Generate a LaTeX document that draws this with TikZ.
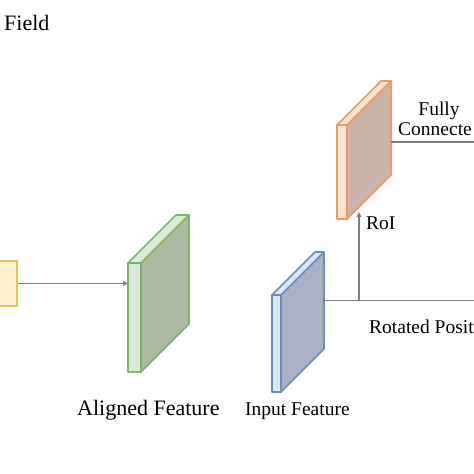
\documentclass[tikz,border=0pt]{standalone}
\usepackage{fontspec}
\setmainfont{Liberation Serif}
\usetikzlibrary{arrows.meta}

\definecolor{linegray}{HTML}{7F7F7F}
\definecolor{grnedge}{HTML}{82B366}
\definecolor{grnlight}{HTML}{D9EBD6}
\definecolor{grndark}{HTML}{ADBBA5}
\definecolor{bluedge}{HTML}{6C8EBF}
\definecolor{blulight}{HTML}{DAE6F8}
\definecolor{bludark}{HTML}{A9B2C3}
\definecolor{orgedge}{HTML}{EB9A62}
\definecolor{orglight}{HTML}{FCE3D3}
\definecolor{orgdark}{HTML}{C9B4A9}
\definecolor{ylwedge}{HTML}{E6C25A}
\definecolor{ylwlight}{HTML}{FFF2CC}

\tikzset{
  link/.style={draw=linegray, line width=1.6pt},
  tip/.style={-{Triangle[length=5pt,width=4.5pt]}},
  lbl/.style={inner sep=0pt, anchor=base west},
  bigtxt/.style={font=\fontsize{22}{26}\selectfont},
  smalltxt/.style={font=\fontsize{19.5}{23}\selectfont},
  ybox/.style={draw=ylwedge, fill=ylwlight, line width=1.6pt,
    minimum width=24pt, minimum height=45pt, inner sep=0pt},
}

% feature map slab: name, x, y, strip width, height, depth, edge, light, dark
\newcommand{\featmap}[9]{%
  \draw[#7, fill=#9, line width=1.6pt, line join=round]
    (#2+#4,#3) -- ++(#6,-#6) -- ++(0,#5) -- ++(-#6,#6) -- cycle;
  \draw[#7, fill=#8, line width=1.6pt, line join=round]
    (#2,#3) -- ++(#6,-#6) -- ++(#4,0) -- ++(-#6,#6) -- cycle;
  \draw[#7, fill=#8, line width=1.6pt, line join=round]
    (#2,#3) rectangle ++(#4,#5);
  \coordinate (#1-nw) at (#2,#3);
  \coordinate (#1-sw) at (#2,#3+#5);
  \coordinate (#1-ne) at (#2+#4+#6,#3-#6);
  \coordinate (#1-e) at (#2+#4+#6,#3-#6+#5/2);
}

\begin{document}
\begin{tikzpicture}[x=1pt,y=-1pt]
  \useasboundingbox (0,0) rectangle (474,474);
  % feature maps
  \featmap{green}{128}{263}{13}{109}{48}{grnedge}{grnlight}{grndark}
  \featmap{blue}{272}{295}{9}{97}{43}{bluedge}{blulight}{bludark}
  \featmap{orange}{337}{125}{10}{94}{44}{orgedge}{orglight}{orgdark}
  \node[ybox] (agg) at (5,283.5) {};
  % connectors
  \draw[link,tip] (agg.east) -- (agg.east -| green-nw);
  \path (blue-e) ++(35,0) coordinate (split);
  \coordinate (rpend) at (480,300.5);
  \coordinate (roitip) at (359,212);
  \draw[link] (blue-e) -- (rpend);
  \draw[link,tip] (split) -- (roitip);
  \coordinate (fcout) at ([yshift=-61pt]orange-ne);
  \coordinate (fcend) at (480,142);
  \draw[link] (fcout) -- (fcend);
  % labels
  \node[lbl,bigtxt] (field) at (4,30) {Field};
  \node[lbl,bigtxt] (aligned) at (77,415) {Aligned Feature};
  \node[lbl,smalltxt] (input) at (245,415) {Input Feature};
  \node[lbl,smalltxt] (roi) at (366,229) {RoI};
  \node[lbl,smalltxt] (rotpos) at (369,333) {Rotated Posit};
  \node[smalltxt,inner sep=0pt,anchor=base] (fully) at (439,115) {Fully};
  \node[lbl,smalltxt] (connecte) at (398,135) {Connecte};
\end{tikzpicture}
\end{document}
